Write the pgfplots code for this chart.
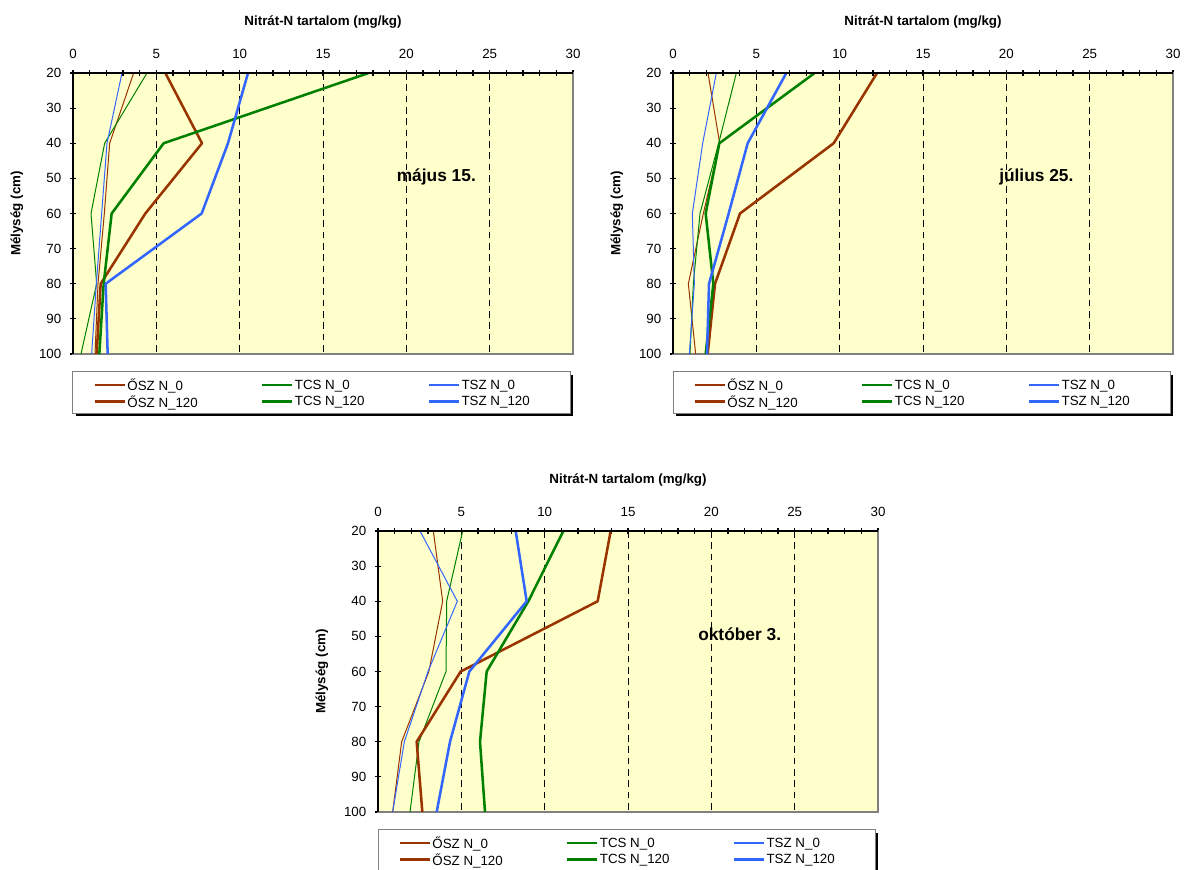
\documentclass[border=0pt]{standalone}
\usepackage{fontspec}
\setmainfont{Liberation Sans}
\usepackage{pgfplots}
\pgfplotsset{compat=1.18}
\definecolor{bgy}{HTML}{FFFFCC}
\definecolor{cbrown}{HTML}{993300}
\definecolor{cgreen}{HTML}{008000}
\definecolor{cblue}{HTML}{3366FF}
\definecolor{bordergray}{HTML}{808080}

\pgfplotsset{
  nprof/.style={
    scale only axis, width=375pt, height=210.75pt,
    xmin=0, xmax=30, ymin=20, ymax=100, y dir=reverse,
    xtick={0,5,...,30}, minor x tick num=4,
    ytick={20,30,...,100},
    xtick pos=right, xticklabel pos=right,
    ytick pos=left, yticklabel pos=left,
    tick align=center, major tick length=4.5pt, minor tick length=4.5pt,
    every tick/.style={black, line width=0.8pt},
    xmajorgrids, major x grid style={black, line width=0.75pt, dash pattern=on 5pt off 3.5pt},
    axis line style={bordergray, line width=1.1pt},
    axis background/.style={fill=bgy},
    clip=false,
    /pgf/number format/assume math mode=true,
    tick label style={font=\fontsize{10}{12}\selectfont},
    yticklabel style={xshift=-3pt},
    xticklabel style={yshift=5pt},
    title={Nitrát-N tartalom (mg/kg)},
    title style={at={(axis description cs:0.5,1.153)}, anchor=center, yshift=0pt, font=\bfseries\fontsize{10}{12}\selectfont},
    ylabel={Mélység (cm)},
    ylabel style={at={(axis description cs:-0.112,0.5)}, anchor=center, font=\bfseries\fontsize{10}{12}\selectfont},
    legend columns=3,
    legend cell align=left,
    legend style={at={(axis description cs:0.04,-0.142)}, anchor=west,
      draw=none, fill=none,
      font=\fontsize{10}{12}\selectfont,
      inner sep=0pt,
      nodes={inner sep=1.2pt},
      /tikz/every even column/.append style={column sep=46pt}},
    legend image code/.code={\path[draw, #1] (0pt,0.4pt) -- (22.5pt,0.4pt);},
    every axis plot/.append style={line join=round},
    after end axis/.append code={
      \draw[line width=1.1pt, black] (axis description cs:0,0) -- (axis description cs:0,1) -- (axis description cs:1,1);},
  },
}
\newcommand{\legframe}{%
  \fill[black] ([xshift=2.5pt,yshift=-2.5pt]axis description cs:0,-0.064) rectangle ([xshift=2.5pt,yshift=-2.5pt]axis description cs:0.994,-0.21);
  \filldraw[fill=white, draw=bordergray, line width=0.75pt] (axis description cs:0,-0.064) rectangle (axis description cs:0.994,-0.21);}
\newcommand{\legimages}{%
  \addlegendimage{color=cbrown, line width=1pt}
  \addlegendentry{ŐSZ N\_0}
  \addlegendimage{color=cgreen, line width=1pt}
  \addlegendentry{TCS N\_0}
  \addlegendimage{color=cblue, line width=1pt}
  \addlegendentry{TSZ N\_0}
  \addlegendimage{color=cbrown, line width=1.9pt}
  \addlegendentry{ŐSZ N\_120}
  \addlegendimage{color=cgreen, line width=1.9pt}
  \addlegendentry{TCS N\_120}
  \addlegendimage{color=cblue, line width=1.9pt}
  \addlegendentry{TSZ N\_120}}

\begin{document}
\begin{tikzpicture}
\useasboundingbox (0,0) rectangle (888pt,-652.5pt);

% ---------- május 15.
\begin{axis}[nprof, at={(54.75pt,-54.75pt)}, anchor=north west]
\legframe
\addplot[forget plot, color=cbrown, line width=0.75pt] coordinates {(3.64,20) (2.2,40) (1.88,60) (1.5,80) (1.32,100)};
\addplot[forget plot, color=cgreen, line width=0.75pt] coordinates {(4.44,20) (1.9,40) (1.08,60) (1.42,80) (0.48,100)};
\addplot[forget plot, color=cblue, line width=0.75pt] coordinates {(2.94,20) (2.04,40) (1.72,60) (1.4,80) (1.12,100)};
\addplot[forget plot, color=cbrown, line width=1.9pt] coordinates {(5.54,20) (7.74,40) (4.34,60) (1.66,80) (1.42,100)};
\addplot[forget plot, color=cgreen, line width=1.9pt] coordinates {(17.74,20) (5.44,40) (2.32,60) (1.84,80) (1.58,100)};
\addplot[forget plot, color=cblue, line width=1.9pt] coordinates {(10.5,20) (9.3,40) (7.72,60) (1.96,80) (2.08,100)};
\legimages
\node[font=\bfseries\fontsize{13}{15}\selectfont] at (axis cs:21.8,49.5) {május 15.};
\end{axis}

% ---------- július 25.
\begin{axis}[nprof, at={(504.75pt,-54.75pt)}, anchor=north west]
\legframe
\addplot[forget plot, color=cbrown, line width=0.75pt] coordinates {(2.1,20) (2.8,40) (1.82,60) (0.92,80) (1.36,100)};
\addplot[forget plot, color=cgreen, line width=0.75pt] coordinates {(3.8,20) (2.74,40) (1.62,60) (1.22,80) (1.02,100)};
\addplot[forget plot, color=cblue, line width=0.75pt] coordinates {(2.6,20) (1.78,40) (1.16,60) (1.28,80) (0.98,100)};
\addplot[forget plot, color=cbrown, line width=1.9pt] coordinates {(12.24,20) (9.64,40) (4.02,60) (2.52,80) (2.08,100)};
\addplot[forget plot, color=cgreen, line width=1.9pt] coordinates {(8.5,20) (2.78,40) (1.96,60) (2.42,80) (1.96,100)};
\addplot[forget plot, color=cblue, line width=1.9pt] coordinates {(6.8,20) (4.48,40) (3.34,60) (2.16,80) (2.04,100)};
\legimages
\node[font=\bfseries\fontsize{13}{15}\selectfont] at (axis cs:21.8,49.5) {július 25.};
\end{axis}

% ---------- október 3.
\begin{axis}[nprof, at={(283.5pt,-398.25pt)}, anchor=north west]
\legframe
\addplot[forget plot, color=cbrown, line width=0.75pt] coordinates {(3.32,20) (3.88,40) (3.05,60) (1.42,80) (0.88,100)};
\addplot[forget plot, color=cgreen, line width=0.75pt] coordinates {(5.08,20) (4.12,40) (4.08,60) (2.46,80) (1.92,100)};
\addplot[forget plot, color=cblue, line width=0.75pt] coordinates {(2.52,20) (4.76,40) (3.0,60) (1.58,80) (0.88,100)};
\addplot[forget plot, color=cbrown, line width=1.9pt] coordinates {(13.96,20) (13.18,40) (4.96,60) (2.32,80) (2.66,100)};
\addplot[forget plot, color=cgreen, line width=1.9pt] coordinates {(11.12,20) (9.02,40) (6.52,60) (6.12,80) (6.42,100)};
\addplot[forget plot, color=cblue, line width=1.9pt] coordinates {(8.26,20) (8.92,40) (5.48,60) (4.32,80) (3.52,100)};
\legimages
\node[font=\bfseries\fontsize{13}{15}\selectfont] at (axis cs:21.7,49.5) {október 3.};
\end{axis}
\end{tikzpicture}
\end{document}
